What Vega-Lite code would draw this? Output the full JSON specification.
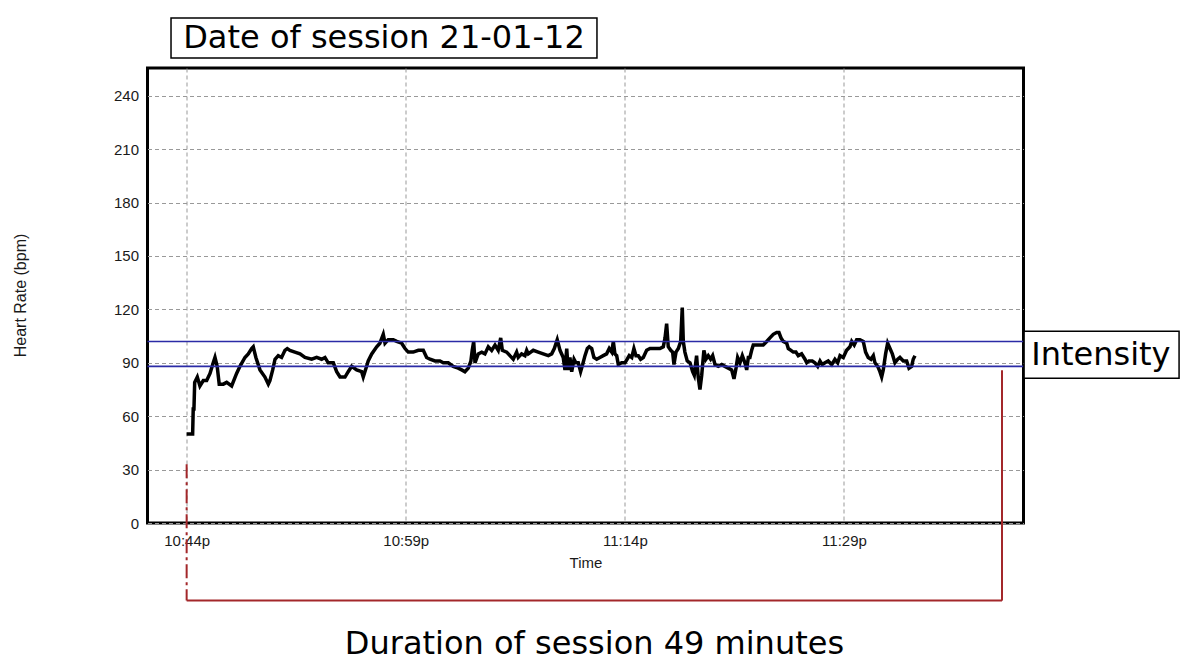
{
  "$schema": "https://vega.github.io/schema/vega-lite/v6.json",
  "autosize": "none",
  "width": 876,
  "height": 455,
  "padding": {"left": 147.5, "top": 68, "right": 158.5, "bottom": 138},
  "background": "white",
  "config": {
    "view": {"stroke": "black", "strokeWidth": 3},
    "axis": {
      "labelFont": "Liberation Sans",
      "labelFontSize": 15,
      "labelColor": "#1a1a1a",
      "titleFont": "Liberation Sans",
      "titleFontSize": 15,
      "titleFontWeight": "normal",
      "titleColor": "#1a1a1a",
      "ticks": false,
      "domain": false,
      "grid": true,
      "gridColor": "#999",
      "gridDash": [4, 3],
      "gridWidth": 1
    }
  },
  "layer": [
    {
      "data": {
        "values": [
          {"minute": 0.0, "bpm": 50}, {"minute": 0.41, "bpm": 50}, {"minute": 0.45, "bpm": 64}, {"minute": 0.5, "bpm": 64},
          {"minute": 0.55, "bpm": 79}, {"minute": 0.73, "bpm": 82}, {"minute": 0.91, "bpm": 77}, {"minute": 1.14, "bpm": 80},
          {"minute": 1.37, "bpm": 80}, {"minute": 1.6, "bpm": 84}, {"minute": 1.82, "bpm": 90}, {"minute": 1.94, "bpm": 93},
          {"minute": 2.09, "bpm": 88}, {"minute": 2.23, "bpm": 78}, {"minute": 2.51, "bpm": 78}, {"minute": 2.74, "bpm": 79},
          {"minute": 3.08, "bpm": 77}, {"minute": 3.42, "bpm": 84}, {"minute": 3.65, "bpm": 88}, {"minute": 3.99, "bpm": 93},
          {"minute": 4.22, "bpm": 95}, {"minute": 4.45, "bpm": 98}, {"minute": 4.56, "bpm": 99}, {"minute": 4.74, "bpm": 93},
          {"minute": 5.02, "bpm": 86}, {"minute": 5.36, "bpm": 82}, {"minute": 5.59, "bpm": 78}, {"minute": 5.7, "bpm": 80},
          {"minute": 5.89, "bpm": 86}, {"minute": 6.05, "bpm": 92}, {"minute": 6.27, "bpm": 94}, {"minute": 6.5, "bpm": 93},
          {"minute": 6.73, "bpm": 97}, {"minute": 6.89, "bpm": 98}, {"minute": 7.07, "bpm": 97}, {"minute": 7.41, "bpm": 96},
          {"minute": 7.76, "bpm": 95}, {"minute": 8.1, "bpm": 93}, {"minute": 8.56, "bpm": 92}, {"minute": 8.9, "bpm": 93},
          {"minute": 9.24, "bpm": 92}, {"minute": 9.47, "bpm": 93}, {"minute": 9.69, "bpm": 90}, {"minute": 10.04, "bpm": 90},
          {"minute": 10.27, "bpm": 85}, {"minute": 10.5, "bpm": 82}, {"minute": 10.84, "bpm": 82}, {"minute": 11.06, "bpm": 85},
          {"minute": 11.3, "bpm": 88}, {"minute": 11.64, "bpm": 86}, {"minute": 11.98, "bpm": 85}, {"minute": 12.09, "bpm": 82},
          {"minute": 12.32, "bpm": 88}, {"minute": 12.43, "bpm": 91}, {"minute": 12.67, "bpm": 95}, {"minute": 13.01, "bpm": 99},
          {"minute": 13.23, "bpm": 101}, {"minute": 13.46, "bpm": 106}, {"minute": 13.58, "bpm": 101}, {"minute": 13.8, "bpm": 103},
          {"minute": 14.14, "bpm": 103}, {"minute": 14.38, "bpm": 102}, {"minute": 14.72, "bpm": 101}, {"minute": 14.95, "bpm": 98},
          {"minute": 15.17, "bpm": 96}, {"minute": 15.51, "bpm": 96}, {"minute": 15.86, "bpm": 97}, {"minute": 16.2, "bpm": 97},
          {"minute": 16.43, "bpm": 93}, {"minute": 16.66, "bpm": 92}, {"minute": 17.0, "bpm": 91}, {"minute": 17.34, "bpm": 91},
          {"minute": 17.57, "bpm": 90}, {"minute": 17.91, "bpm": 90}, {"minute": 18.25, "bpm": 88}, {"minute": 18.59, "bpm": 87},
          {"minute": 18.83, "bpm": 86}, {"minute": 19.05, "bpm": 85}, {"minute": 19.28, "bpm": 87}, {"minute": 19.46, "bpm": 91},
          {"minute": 19.55, "bpm": 97}, {"minute": 19.65, "bpm": 102}, {"minute": 19.74, "bpm": 90}, {"minute": 19.96, "bpm": 95},
          {"minute": 20.2, "bpm": 96}, {"minute": 20.42, "bpm": 95}, {"minute": 20.65, "bpm": 99}, {"minute": 20.88, "bpm": 97},
          {"minute": 21.11, "bpm": 100}, {"minute": 21.33, "bpm": 97}, {"minute": 21.5, "bpm": 104}, {"minute": 21.61, "bpm": 97},
          {"minute": 21.91, "bpm": 96}, {"minute": 22.13, "bpm": 94}, {"minute": 22.36, "bpm": 92}, {"minute": 22.59, "bpm": 96},
          {"minute": 22.7, "bpm": 93}, {"minute": 22.93, "bpm": 95}, {"minute": 23.16, "bpm": 94}, {"minute": 23.28, "bpm": 97},
          {"minute": 23.39, "bpm": 95}, {"minute": 23.73, "bpm": 97}, {"minute": 24.07, "bpm": 96}, {"minute": 24.41, "bpm": 95},
          {"minute": 24.76, "bpm": 94}, {"minute": 24.99, "bpm": 95}, {"minute": 25.17, "bpm": 98}, {"minute": 25.37, "bpm": 103},
          {"minute": 25.56, "bpm": 97}, {"minute": 25.78, "bpm": 93}, {"minute": 25.9, "bpm": 86}, {"minute": 26.02, "bpm": 98},
          {"minute": 26.12, "bpm": 86}, {"minute": 26.24, "bpm": 93}, {"minute": 26.36, "bpm": 85}, {"minute": 26.52, "bpm": 92},
          {"minute": 26.65, "bpm": 90}, {"minute": 26.81, "bpm": 90}, {"minute": 26.97, "bpm": 85}, {"minute": 27.11, "bpm": 89},
          {"minute": 27.27, "bpm": 94}, {"minute": 27.43, "bpm": 98}, {"minute": 27.56, "bpm": 99}, {"minute": 27.73, "bpm": 98},
          {"minute": 27.88, "bpm": 93}, {"minute": 28.07, "bpm": 92}, {"minute": 28.29, "bpm": 93}, {"minute": 28.52, "bpm": 94},
          {"minute": 28.75, "bpm": 95}, {"minute": 28.93, "bpm": 98}, {"minute": 29.1, "bpm": 96}, {"minute": 29.21, "bpm": 102},
          {"minute": 29.32, "bpm": 95}, {"minute": 29.44, "bpm": 94}, {"minute": 29.55, "bpm": 89}, {"minute": 29.78, "bpm": 90},
          {"minute": 30.01, "bpm": 90}, {"minute": 30.16, "bpm": 92}, {"minute": 30.3, "bpm": 94}, {"minute": 30.47, "bpm": 93},
          {"minute": 30.62, "bpm": 98}, {"minute": 30.76, "bpm": 94}, {"minute": 30.92, "bpm": 94}, {"minute": 31.08, "bpm": 92},
          {"minute": 31.26, "bpm": 93}, {"minute": 31.49, "bpm": 97}, {"minute": 31.72, "bpm": 98}, {"minute": 32.06, "bpm": 98},
          {"minute": 32.4, "bpm": 98}, {"minute": 32.63, "bpm": 99}, {"minute": 32.75, "bpm": 104}, {"minute": 32.86, "bpm": 112},
          {"minute": 32.97, "bpm": 99}, {"minute": 33.14, "bpm": 97}, {"minute": 33.27, "bpm": 96}, {"minute": 33.36, "bpm": 89},
          {"minute": 33.5, "bpm": 96}, {"minute": 33.66, "bpm": 98}, {"minute": 33.82, "bpm": 102}, {"minute": 33.93, "bpm": 121},
          {"minute": 34.0, "bpm": 102}, {"minute": 34.11, "bpm": 96}, {"minute": 34.27, "bpm": 91}, {"minute": 34.46, "bpm": 90},
          {"minute": 34.64, "bpm": 85}, {"minute": 34.75, "bpm": 83}, {"minute": 34.91, "bpm": 94}, {"minute": 35.02, "bpm": 82},
          {"minute": 35.14, "bpm": 75}, {"minute": 35.26, "bpm": 83}, {"minute": 35.41, "bpm": 97}, {"minute": 35.55, "bpm": 92},
          {"minute": 35.71, "bpm": 94}, {"minute": 35.87, "bpm": 92}, {"minute": 36.01, "bpm": 94}, {"minute": 36.17, "bpm": 89},
          {"minute": 36.39, "bpm": 88}, {"minute": 36.63, "bpm": 89}, {"minute": 36.85, "bpm": 88}, {"minute": 37.08, "bpm": 87},
          {"minute": 37.31, "bpm": 86}, {"minute": 37.47, "bpm": 81}, {"minute": 37.61, "bpm": 87}, {"minute": 37.72, "bpm": 93},
          {"minute": 37.88, "bpm": 90}, {"minute": 38.04, "bpm": 94}, {"minute": 38.22, "bpm": 90}, {"minute": 38.34, "bpm": 86},
          {"minute": 38.45, "bpm": 93}, {"minute": 38.56, "bpm": 93}, {"minute": 38.68, "bpm": 97}, {"minute": 38.79, "bpm": 100},
          {"minute": 39.02, "bpm": 100}, {"minute": 39.25, "bpm": 100}, {"minute": 39.47, "bpm": 100}, {"minute": 39.71, "bpm": 102},
          {"minute": 39.93, "bpm": 104}, {"minute": 40.16, "bpm": 106}, {"minute": 40.39, "bpm": 107}, {"minute": 40.55, "bpm": 107},
          {"minute": 40.69, "bpm": 104}, {"minute": 40.84, "bpm": 102}, {"minute": 41.08, "bpm": 101}, {"minute": 41.19, "bpm": 98},
          {"minute": 41.37, "bpm": 97}, {"minute": 41.53, "bpm": 96}, {"minute": 41.71, "bpm": 96}, {"minute": 41.87, "bpm": 94},
          {"minute": 42.1, "bpm": 95}, {"minute": 42.33, "bpm": 92}, {"minute": 42.45, "bpm": 90}, {"minute": 42.6, "bpm": 91},
          {"minute": 42.83, "bpm": 91}, {"minute": 43.01, "bpm": 90}, {"minute": 43.2, "bpm": 88}, {"minute": 43.36, "bpm": 91},
          {"minute": 43.51, "bpm": 89}, {"minute": 43.7, "bpm": 90}, {"minute": 43.92, "bpm": 91}, {"minute": 44.16, "bpm": 89},
          {"minute": 44.38, "bpm": 92}, {"minute": 44.57, "bpm": 90}, {"minute": 44.73, "bpm": 94}, {"minute": 44.95, "bpm": 93},
          {"minute": 45.18, "bpm": 97}, {"minute": 45.41, "bpm": 99}, {"minute": 45.53, "bpm": 102}, {"minute": 45.7, "bpm": 100},
          {"minute": 45.87, "bpm": 103}, {"minute": 46.09, "bpm": 103}, {"minute": 46.32, "bpm": 102}, {"minute": 46.48, "bpm": 96},
          {"minute": 46.66, "bpm": 93}, {"minute": 46.85, "bpm": 92}, {"minute": 47.01, "bpm": 94}, {"minute": 47.12, "bpm": 90},
          {"minute": 47.31, "bpm": 88}, {"minute": 47.46, "bpm": 85}, {"minute": 47.58, "bpm": 82}, {"minute": 47.69, "bpm": 86},
          {"minute": 47.85, "bpm": 95}, {"minute": 47.99, "bpm": 101}, {"minute": 48.15, "bpm": 98}, {"minute": 48.31, "bpm": 95},
          {"minute": 48.49, "bpm": 90}, {"minute": 48.68, "bpm": 92}, {"minute": 48.83, "bpm": 93}, {"minute": 49.06, "bpm": 91},
          {"minute": 49.29, "bpm": 91}, {"minute": 49.45, "bpm": 87}, {"minute": 49.63, "bpm": 88}, {"minute": 49.74, "bpm": 92},
          {"minute": 49.86, "bpm": 94}
        ]
      },
      "mark": {"type": "line", "color": "black", "strokeWidth": 3.5, "strokeJoin": "miter"},
      "encoding": {
        "x": {
          "field": "minute",
          "type": "quantitative",
          "title": "Time",
          "scale": {"domain": [-2.68, 57.29], "nice": false, "zero": false},
          "axis": {
            "values": [0, 15, 30, 45],
            "labelExpr": "timeFormat(datetime(2012, 0, 21, 22, 44 + datum.value), '%-I:%Mp')",
            "labelPadding": 10,
            "titlePadding": 7
          }
        },
        "y": {
          "field": "bpm",
          "type": "quantitative",
          "title": "Heart Rate (bpm)",
          "scale": {"domain": [0, 255.6], "nice": false},
          "axis": {
            "values": [0, 30, 60, 90, 120, 150, 180, 210, 240],
            "labelPadding": 9,
            "titleFontSize": 16,
            "titleX": -127,
            "titleY": 227,
            "titleAngle": -90,
            "titleAlign": "center",
            "titleBaseline": "middle"
          }
        }
      }
    },
    {
      "data": {"values": [{"limit": 88}, {"limit": 102}]},
      "mark": {"type": "rule", "color": "#2b2ba6", "strokeWidth": 1.6},
      "encoding": {"y": {"field": "limit", "type": "quantitative"}}
    },
    {
      "data": {"values": [{"x": 0, "x2": 0, "y": 33, "y2": -43.6}]},
      "mark": {"type": "rule", "color": "#a3272a", "strokeWidth": 2, "strokeDash": [14, 4, 3, 4], "clip": false},
      "encoding": {
        "x": {"field": "x", "type": "quantitative"},
        "x2": {"field": "x2"},
        "y": {"field": "y", "type": "quantitative"},
        "y2": {"field": "y2"}
      }
    },
    {
      "data": {
        "values": [
          {"x": 0, "x2": 55.82, "y": -43.6, "y2": -43.6},
          {"x": 55.82, "x2": 55.82, "y": 85.8, "y2": -43.6}
        ]
      },
      "mark": {"type": "rule", "color": "#a3272a", "strokeWidth": 2, "clip": false},
      "encoding": {
        "x": {"field": "x", "type": "quantitative"},
        "x2": {"field": "x2"},
        "y": {"field": "y", "type": "quantitative"},
        "y2": {"field": "y2"}
      }
    },
    {
      "data": {
        "values": [
          {"x": -1.07, "x2": 28.09, "y": 283.7, "y2": 261.2},
          {"x": 57.33, "x2": 67.94, "y": 107.7, "y2": 81.3}
        ]
      },
      "mark": {"type": "rect", "fill": "white", "stroke": "black", "strokeWidth": 1.5, "clip": false},
      "encoding": {
        "x": {"field": "x", "type": "quantitative"},
        "x2": {"field": "x2"},
        "y": {"field": "y", "type": "quantitative"},
        "y2": {"field": "y2"}
      }
    },
    {
      "data": {
        "values": [
          {"x": 13.51, "y": 272.5, "label": "Date of session 21-01-12"},
          {"x": 62.59, "y": 94.5, "label": "Intensity"},
          {"x": 27.92, "y": -67.8, "label": "Duration of session 49 minutes"}
        ]
      },
      "mark": {"type": "text", "font": "DejaVu Sans", "fontSize": 32, "color": "black", "align": "center", "baseline": "middle", "clip": false},
      "encoding": {
        "x": {"field": "x", "type": "quantitative"},
        "y": {"field": "y", "type": "quantitative"},
        "text": {"field": "label"}
      }
    }
  ]
}
